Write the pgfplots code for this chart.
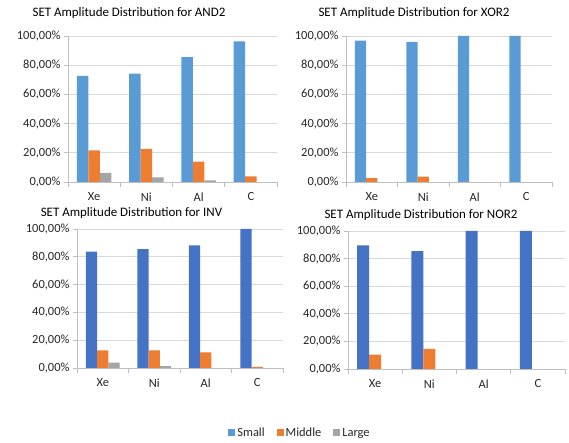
\documentclass[border=0pt]{standalone}
\usepackage{pgfplots}
\pgfplotsset{compat=1.18}
\usepackage{fontspec}
\setmainfont{Carlito}
\definecolor{lblue}{HTML}{5B9BD5}
\definecolor{dblue}{HTML}{4472C4}
\definecolor{orng}{HTML}{ED7D31}
\definecolor{gry}{HTML}{A5A5A5}
\definecolor{gridc}{HTML}{D9D9D9}
\definecolor{axc}{HTML}{BFBFBF}
\definecolor{txt}{HTML}{262626}
\pgfplotsset{panel/.style={
  scale only axis, anchor=south west,
  ybar=0pt, bar width=0.22,
  xmin=-0.5, xmax=3.5, ymin=0, ymax=100,
  unbounded coords=discard,
  xtick={0,1,2,3}, xticklabels={Xe,Ni,Al,C},
  minor xtick={-0.5,0.5,1.5,2.5,3.5},
  major x tick style={draw=none},
  ytick={0,20,40,60,80,100},
  yticklabels={{0,00\%},{20,00\%},{40,00\%},{60,00\%},{80,00\%},{100,00\%}},
  axis x line*=bottom, axis y line*=left,
  axis line style={axc, line width=0.8pt, -},
  ymajorgrids, major grid style={gridc, line width=0.8pt},
  tick align=outside,
  major tick length=4bp, minor tick length=5bp,
  every tick/.style={axc, line width=0.8pt},
  tick label style={font=\fontsize{12.5}{14}\selectfont, text=txt},
  xticklabel style={yshift=-3bp},
  legend image code/.code={\path[##1,draw=none] (0bp,-3.5bp) rectangle (7bp,3.5bp);},
}}
\begin{document}
\begin{tikzpicture}
\path (0,0) rectangle (569bp,443bp);
% AND2
\begin{axis}[panel, at={(68bp,261bp)}, width=209bp, height=146bp,
  legend columns=3,
  legend style={at={(1.11,-1.719)}, anchor=center, draw=none, fill=none,
    font=\fontsize{12.5}{14}\selectfont, text=txt,
    /tikz/every even column/.append style={column sep=10bp},
    inner sep=0pt}]
\addplot[fill=lblue, draw=none] coordinates {(0,72.7) (1,74.3) (2,85.6) (3,96.3)};
\addplot[fill=orng, draw=none] coordinates {(0,21.7) (1,22.7) (2,14.0) (3,3.9)};
\addplot[fill=gry, draw=none] coordinates {(0,6.3) (1,3.2) (2,1.1) (3,nan)};
\legend{Small,Middle,Large}
\end{axis}
% XOR2
\begin{axis}[panel, at={(346bp,261bp)}, width=206bp, height=146bp]
\addplot[fill=lblue, draw=none] coordinates {(0,96.8) (1,95.9) (2,100) (3,100)};
\addplot[fill=orng, draw=none] coordinates {(0,2.7) (1,3.6) (2,nan) (3,nan)};
\addplot[fill=gry, draw=none] coordinates {(0,nan) (1,nan) (2,nan) (3,nan)};
\end{axis}
% INV
\begin{axis}[panel, at={(77bp,75bp)}, width=206bp, height=139bp]
\addplot[fill=dblue, draw=none] coordinates {(0,83.7) (1,85.6) (2,88.2) (3,100)};
\addplot[fill=orng, draw=none] coordinates {(0,12.7) (1,12.7) (2,11.3) (3,0.8)};
\addplot[fill=gry, draw=none] coordinates {(0,3.8) (1,1.4) (2,nan) (3,nan)};
\end{axis}
% NOR2
\begin{axis}[panel, at={(348bp,74bp)}, width=217bp, height=138bp]
\addplot[fill=dblue, draw=none] coordinates {(0,89.6) (1,85.5) (2,100) (3,100)};
\addplot[fill=orng, draw=none] coordinates {(0,10.4) (1,14.5) (2,nan) (3,nan)};
\addplot[fill=gry, draw=none] coordinates {(0,nan) (1,nan) (2,nan) (3,nan)};
\end{axis}
\node[font=\fontsize{13}{15}\selectfont, text=black] at (129bp,430bp) {SET Amplitude Distribution for AND2};
\node[font=\fontsize{13}{15}\selectfont, text=black] at (414bp,430bp) {SET Amplitude Distribution for XOR2};
\node[font=\fontsize{13}{15}\selectfont, text=black] at (131.5bp,229.5bp) {SET Amplitude Distribution for INV};
\node[font=\fontsize{13}{15}\selectfont, text=black] at (421bp,228bp) {SET Amplitude Distribution for NOR2};
\end{tikzpicture}
\end{document}
